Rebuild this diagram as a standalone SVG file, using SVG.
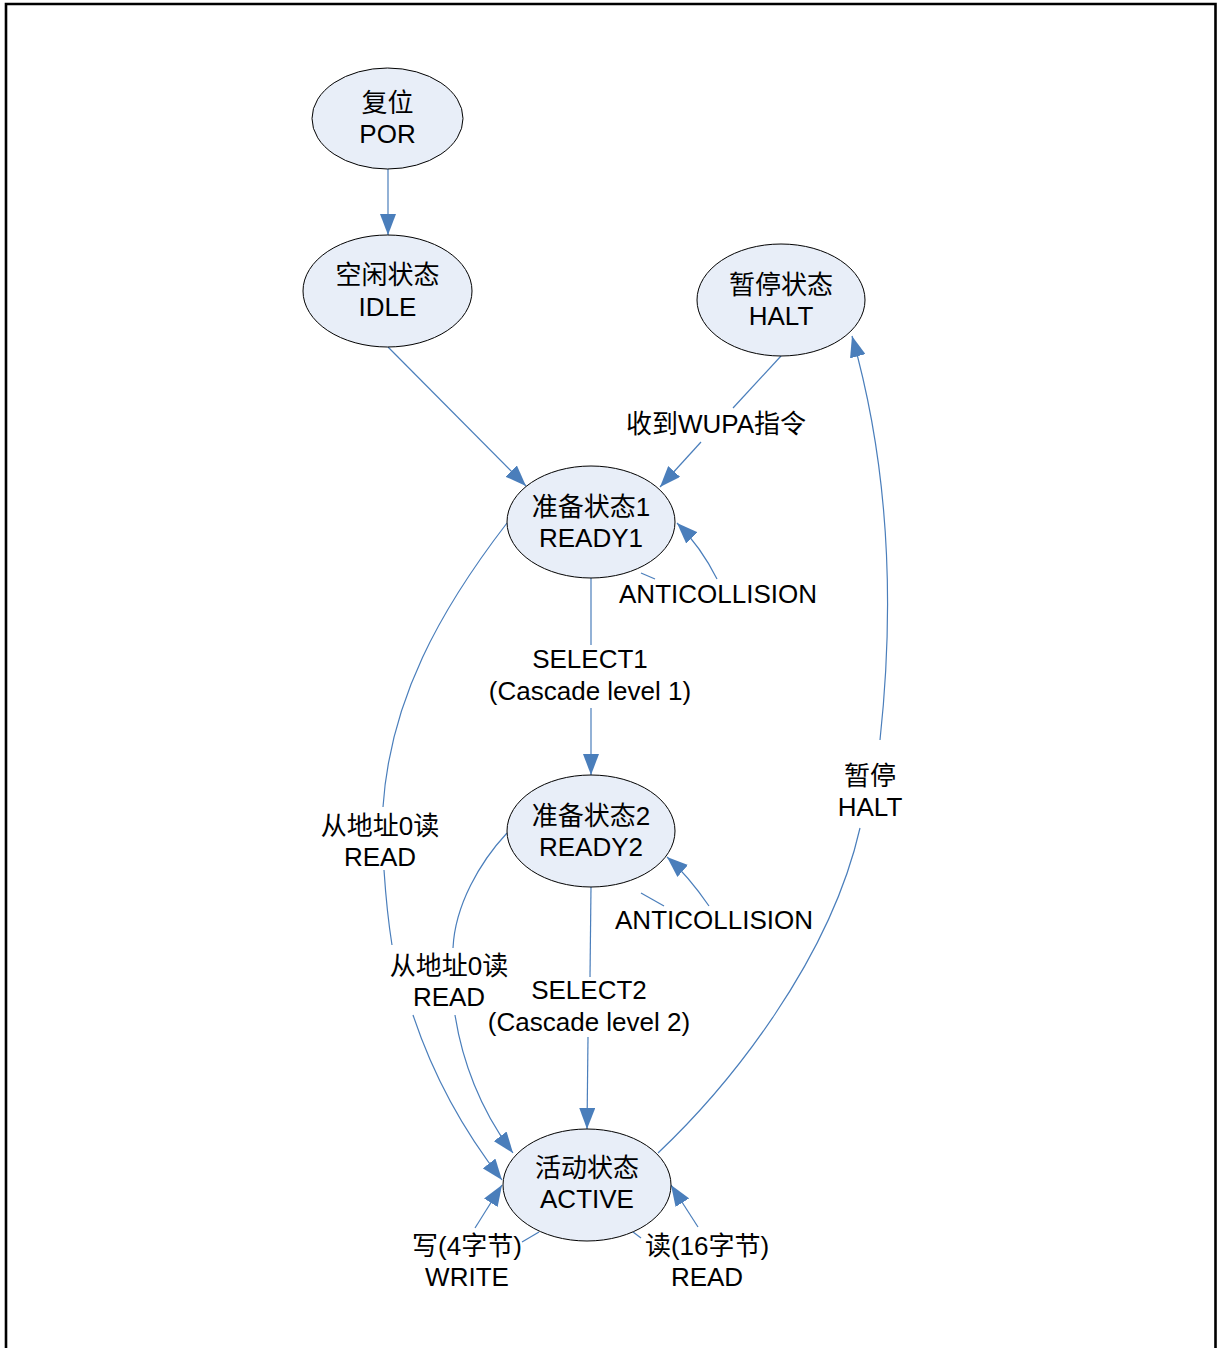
<svg xmlns="http://www.w3.org/2000/svg" width="1221" height="1348" viewBox="0 0 1221 1348">
<defs>
<marker id="arr" viewBox="0 0 21 16" refX="21" refY="8" markerWidth="21" markerHeight="16" markerUnits="userSpaceOnUse" orient="auto">
<path d="M0,0 L21,8 L0,16 z" fill="#4a7ebb"/>
</marker>
<style>
.node ellipse{fill:#e8eef8;stroke:#000;stroke-width:1}
text{font-family:"Liberation Sans","Noto Sans CJK SC",sans-serif;font-size:26px;fill:#000;text-anchor:middle}
.edge path{fill:none;stroke:#4a7ebb;stroke-width:1.2}
.edge path.a{marker-end:url(#arr)}
</style>
</defs>
<rect x="0" y="0" width="1221" height="1348" fill="#fff"/>
<path d="M6,1348 V4 H1215.5 V1348" fill="none" stroke="#000" stroke-width="2.6"/>

<g id="connectors" class="edge">
<path class="a" d="M388,169 L388,235"/>
<path class="a" d="M388,347 L526,486"/>
<path d="M781,356 L733,408"/>
<path class="a" d="M701,442 L660,487"/>
<path d="M658,1153 C730,1085 830,960 860,828"/>
<path class="a" d="M880,740 C893,620 893,480 852,336"/>
<path d="M641,573 L655,579"/>
<path class="a" d="M717,579 C706,557 692,538 677,523"/>
<path d="M591,578 L591,645"/>
<path class="a" d="M591,708 L591,775"/>
<path d="M641,893 L664,906"/>
<path class="a" d="M709,906 C698,890 684,872 667,857"/>
<path d="M591,887 L590,977"/>
<path class="a" d="M588,1037 L587,1129"/>
<path d="M507,523 C440,610 390,700 383,807"/>
<path d="M384,870 C386,900 388,920 392,945"/>
<path class="a" d="M413,1015 C428,1060 455,1120 502,1180"/>
<path d="M507,833 C480,862 455,905 453,948"/>
<path class="a" d="M455,1015 C462,1060 480,1110 513,1153"/>
<path d="M539,1232 L522,1242"/>
<path class="a" d="M475,1228 L502,1185"/>
<path d="M633,1232 L641,1238"/>
<path class="a" d="M698,1227 L671,1185"/>
</g>

<g id="por" class="node">
<ellipse cx="387.5" cy="118.5" rx="75.5" ry="50.5"/>
<text x="387.5" y="112">复位</text>
<text x="387.5" y="143">POR</text>
</g>
<g id="idle" class="node">
<ellipse cx="387.5" cy="291" rx="84.5" ry="56"/>
<text x="387.5" y="284">空闲状态</text>
<text x="387.5" y="316">IDLE</text>
</g>
<g id="halt" class="node">
<ellipse cx="781" cy="300" rx="84" ry="56"/>
<text x="781" y="294">暂停状态</text>
<text x="781" y="325">HALT</text>
</g>
<g id="ready1" class="node">
<ellipse cx="591" cy="522" rx="84" ry="56"/>
<text x="591" y="516">准备状态1</text>
<text x="591" y="547">READY1</text>
</g>
<g id="ready2" class="node">
<ellipse cx="591" cy="831" rx="84" ry="56"/>
<text x="591" y="825">准备状态2</text>
<text x="591" y="856">READY2</text>
</g>
<g id="active" class="node">
<ellipse cx="587" cy="1185" rx="84" ry="56"/>
<text x="587" y="1177">活动状态</text>
<text x="587" y="1208">ACTIVE</text>
</g>

<g id="labels">
<text x="716" y="433">收到WUPA指令</text>
<text x="718" y="603">ANTICOLLISION</text>
<text x="590" y="668">SELECT1</text>
<text x="590" y="700">(Cascade level 1)</text>
<text x="714" y="929">ANTICOLLISION</text>
<text x="589" y="999">SELECT2</text>
<text x="589" y="1031">(Cascade level 2)</text>
<text x="380" y="835">从地址0读</text>
<text x="380" y="866">READ</text>
<text x="449" y="975">从地址0读</text>
<text x="449" y="1006">READ</text>
<text x="870" y="785">暂停</text>
<text x="870" y="816">HALT</text>
<text x="467" y="1255">写(4字节)</text>
<text x="467" y="1286">WRITE</text>
<text x="707" y="1255">读(16字节)</text>
<text x="707" y="1286">READ</text>
</g>
</svg>
